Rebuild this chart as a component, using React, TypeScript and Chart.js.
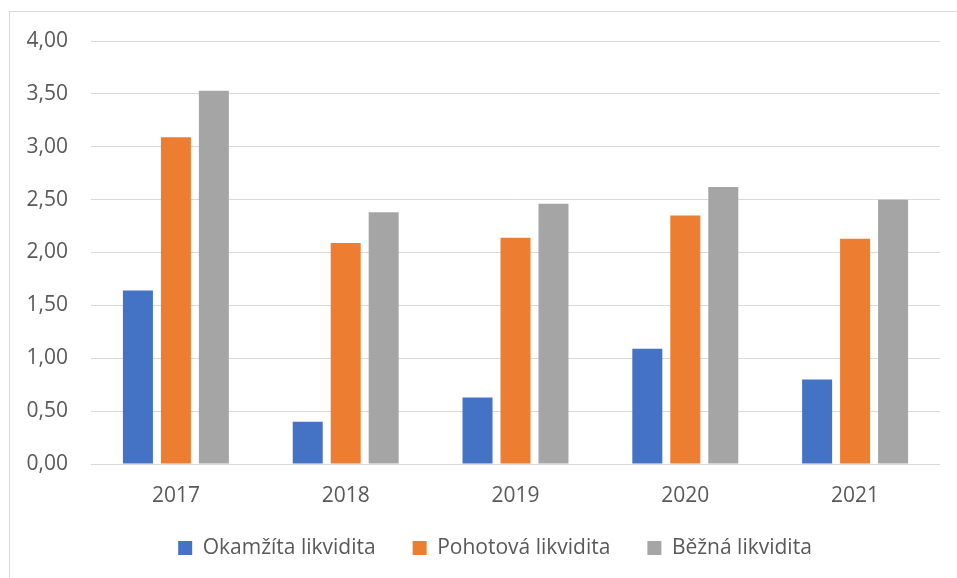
import React, { useEffect, useRef } from "react";
import { Chart, registerables } from "chart.js";

Chart.register(...registerables);

const years = ["2017", "2018", "2019", "2020", "2021"];
const okamzita = [1.64, 0.4, 0.63, 1.09, 0.8];
const pohotova = [3.09, 2.09, 2.14, 2.35, 2.13];
const bezna = [3.53, 2.38, 2.46, 2.62, 2.5];
const seriesNames = ["Okamžíta likvidita", "Pohotová likvidita", "Běžná likvidita"];
const seriesColors = ["#4472C4", "#ED7D31", "#A5A5A5"];
const yMin = 0;
const yMax = 4;
const yStep = 0.5;

const FONT = "'Open Sans', sans-serif";
const TEXT = "#595959";

// widen the clip areas of the axis labels so text is not cut
const unclipLabels = {
  id: "unclipLabels",
  afterLayout(chart: any) {
    const y = chart.scales.y;
    const x = chart.scales.x;
    if (y) y.left = 0;
    if (x) x.bottom = x.bottom + 30;
  },
};

export default function App() {
  const canvasRef = useRef<HTMLCanvasElement | null>(null);

  useEffect(() => {
    if (!canvasRef.current) return;
    const values = [okamzita, pohotova, bezna];
    const chart = new Chart(canvasRef.current, {
      type: "bar",
      data: {
        labels: years,
        datasets: seriesNames.map((name, i) => ({
          label: name,
          data: values[i],
          backgroundColor: seriesColors[i],
          borderWidth: 0,
          categoryPercentage: 0.671,
          barPercentage: 0.79,
        })),
      },
      plugins: [unclipLabels],
      options: {
        animation: false,
        responsive: true,
        maintainAspectRatio: false,
        layout: { padding: { left: 50, right: 17, top: 41, bottom: 9.5 } },
        plugins: {
          tooltip: { enabled: false },
          legend: {
            position: "bottom",
            labels: {
              boxWidth: 14,
              boxHeight: 14,
              padding: 37,
              color: TEXT,
              font: { family: FONT, size: 21 },
            },
          },
        },
        scales: {
          x: {
            grid: { display: false, drawTicks: false },
            border: { display: false },
            ticks: { color: TEXT, font: { family: FONT, size: 21 }, padding: 19 },
            afterFit: (s: any) => {
              s.height = 36.5;
            },
          },
          y: {
            min: yMin,
            max: yMax,
            ticks: {
              stepSize: yStep,
              color: TEXT,
              padding: 23,
              font: { family: FONT, size: 21 },
              callback: (v: any) => Number(v).toFixed(2).replace(".", ","),
            },
            grid: { color: "#d9d9d9", lineWidth: 1, drawTicks: false },
            border: { display: false },
            afterFit: (s: any) => {
              s.width = 41;
            },
          },
        },
      },
    });
    return () => chart.destroy();
  }, []);

  return (
    <div
      style={{
        position: "fixed",
        left: 0,
        top: 0,
        width: 957,
        height: 578,
        overflow: "hidden",
        background: "#ffffff",
      }}
    >
      <div
        style={{
          position: "absolute",
          left: 9,
          top: 11,
          width: 1000,
          height: 1000,
          border: "1px solid #d9d9d9",
        }}
      />
      <div style={{ position: "absolute", left: 0, top: 0, width: 957, height: 578 }}>
        <canvas ref={canvasRef} />
      </div>
    </div>
  );
}
